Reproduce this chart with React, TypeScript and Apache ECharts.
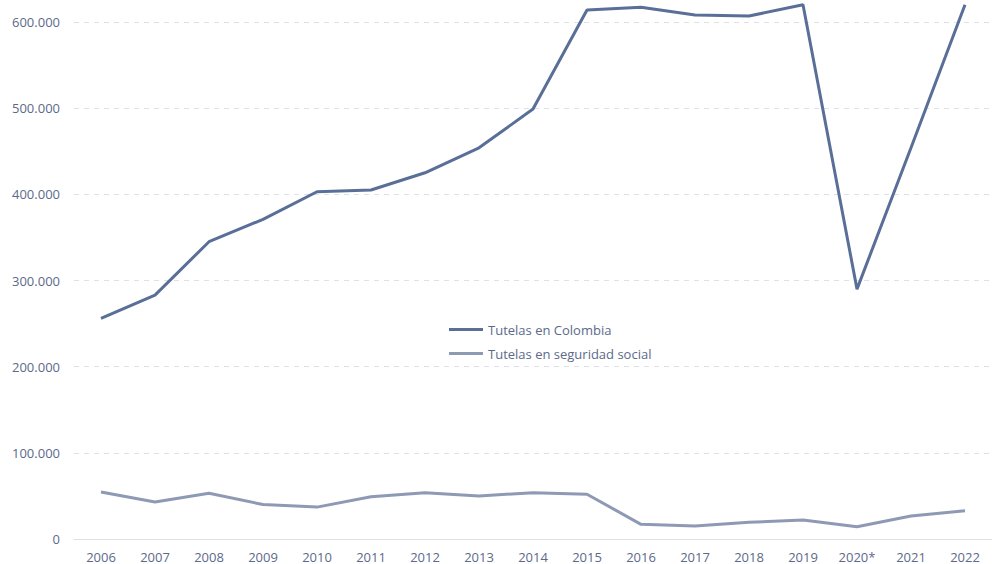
import React, { useEffect, useRef } from "react";
import * as echarts from "echarts";

const years = ["2006","2007","2008","2009","2010","2011","2012","2013","2014","2015","2016","2017","2018","2019","2020*","2021","2022"];
const tutelasColombia = [256000,283000,345000,371000,403000,405000,425000,454000,499000,614000,617000,608000,607000,620000,290000,454000,620000];
const tutelasSeguridad = [54500,43000,53000,40000,37000,49000,53700,50000,53700,52000,17000,15000,19400,22000,14300,26700,32800];

const fmt = (v: number) => String(Math.round(v)).replace(/\B(?=(\d{3})+(?!\d))/g, ".");

export default function App() {
  const ref = useRef<HTMLDivElement>(null);
  useEffect(() => {
    const chart = echarts.init(ref.current!, null, { renderer: "svg" });
    const textColor = "#5b6a8a";
    chart.setOption({
      animation: false,
      backgroundColor: "#ffffff",
      textStyle: { fontFamily: "Open Sans, sans-serif" },
      grid: { left: 74, right: 0, top: 22, bottom: 25, containLabel: false },
      legend: {
        orient: "vertical",
        left: 444,
        top: 318,
        itemWidth: 34,
        itemHeight: 3,
        itemGap: 11,
        icon: "rect",
        textStyle: { color: textColor, fontSize: 13, fontFamily: "Open Sans, sans-serif" },
        data: ["Tutelas en Colombia", "Tutelas en seguridad social"],
      },
      xAxis: {
        type: "category",
        data: years,
        boundaryGap: true,
        axisLine: { show: true, lineStyle: { color: "#dcdfe6", width: 1 } },
        axisTick: { show: false },
        axisLabel: { color: textColor, fontSize: 13, margin: 11 },
      },
      yAxis: {
        type: "value",
        min: 0,
        max: 600000,
        interval: 100000,
        axisLine: { show: false },
        axisTick: { show: false },
        axisLabel: { color: textColor, fontSize: 13, margin: 14, formatter: (v: number) => fmt(v) },
        splitLine: { lineStyle: { color: "#dde1e8", type: [5, 5], width: 1 } },
      },
      series: [
        {
          name: "Tutelas en Colombia",
          type: "line",
          data: tutelasColombia,
          symbol: "none",
          clip: false,
          lineStyle: { color: "#5a6f97", width: 3 },
          itemStyle: { color: "#5a6f97" },
        },
        {
          name: "Tutelas en seguridad social",
          type: "line",
          data: tutelasSeguridad,
          symbol: "none",
          clip: false,
          lineStyle: { color: "#8e99b4", width: 3 },
          itemStyle: { color: "#8e99b4" },
        },
      ],
    });
    return () => chart.dispose();
  }, []);
  return <div ref={ref} style={{ position: "fixed", left: 0, top: 0, width: 992, height: 564 }} />;
}
